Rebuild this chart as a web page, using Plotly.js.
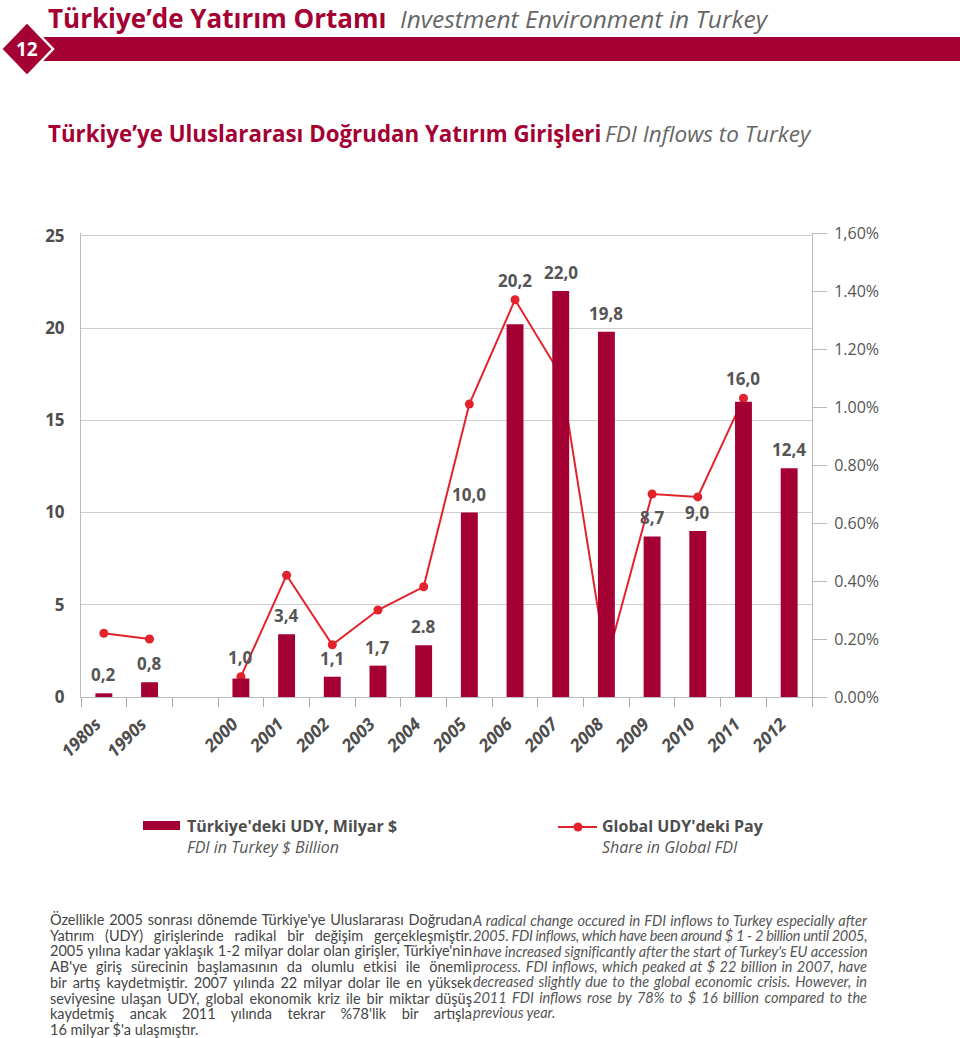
<!DOCTYPE html>
<html><head><meta charset="utf-8">
<script src="https://cdn.plot.ly/plotly-3.0.1.min.js"></script>
<style>
html,body{margin:0;padding:0;background:#fff;}
#wrap{position:relative;width:960px;height:1038px;overflow:hidden;}
#chart{position:absolute;left:0;top:0;width:960px;height:1038px;}
.para{position:absolute;font-family:Lato,'Open Sans',sans-serif;}
.para div{white-space:nowrap;text-align:justify;text-align-last:justify;}
.para div.last{text-align-last:left;}
</style></head>
<body><div id="wrap"><div id="chart"></div>
<div id="trText" class="para" style="left:50px;top:912px;width:422px;font-size:14.5px;line-height:15.7px;color:#454545;"></div>
<div id="enText" class="para" style="left:473px;top:913px;width:394px;font-size:14.5px;line-height:15.35px;color:#555;font-style:italic;"></div>
</div>
<script>
// ---- data ----
const categories = ['1980s','1990s',' ','2000','2001','2002','2003','2004','2005','2006','2007','2008','2009','2010','2011','2012'];
const fdiBillion = [0.2,0.8,null,1.0,3.4,1.1,1.7,2.8,10.0,20.2,22.0,19.8,8.7,9.0,16.0,12.4];
const fdiLabels = ['0,2','0,8','','1,0','3,4','1,1','1,7','2.8','10,0','20,2','22,0','19,8','8,7','9,0','16,0','12,4'];
const globalShare = [0.22,0.20,null,0.07,0.42,0.18,0.30,0.38,1.01,1.37,1.11,0.12,0.70,0.69,1.03,null];
const fdiTicks = [0,5,10,15,20,25];
const shareTicks = [0,0.2,0.4,0.6,0.8,1.0,1.2,1.4,1.6];
const shareTickLabels = ['0.00%','0.20%','0.40%','0.60%','0.80%','1.00%','1.20%','1.40%','1,60%'];
const mainTitle = 'Türkiye’de Yatırım Ortamı';
const mainTitleEn = 'Investment Environment in Turkey';
const chartTitle = 'Türkiye’ye Uluslararası Doğrudan Yatırım Girişleri';
const chartTitleEn = 'FDI Inflows to Turkey';
const pageNumber = '12';
const legendBarTr = "Türkiye'deki UDY, Milyar $";
const legendBarEn = 'FDI in Turkey $ Billion';
const legendLineTr = "Global UDY'deki Pay";
const legendLineEn = 'Share in Global FDI';
const textTr = [
 "Özellikle 2005 sonrası dönemde Türkiye'ye Uluslararası Doğrudan",
 "Yatırım (UDY) girişlerinde radikal bir değişim gerçekleşmiştir.",
 "2005 yılına kadar yaklaşık 1-2 milyar dolar olan girişler, Türkiye'nin",
 "AB'ye giriş sürecinin başlamasının da olumlu etkisi ile önemli",
 "bir artış kaydetmiştir. 2007 yılında 22 milyar dolar ile en yüksek",
 "seviyesine ulaşan UDY,  global ekonomik kriz ile bir miktar düşüş",
 "kaydetmiş ancak 2011 yılında tekrar %78'lik bir artışla",
 "16 milyar  $'a ulaşmıştır."
];
const textEn = [
 "A radical change occured in FDI inflows to Turkey especially after",
 "2005. FDI inflows, which have been around $ 1 - 2 billion until 2005,",
 "have increased significantly after the start of Turkey's EU accession",
 "process. FDI inflows, which peaked at $ 22 billion in 2007, have",
 "decreased slightly due to the global economic crisis. However, in",
 "2011 FDI inflows rose by 78% to $ 16 billion compared to the",
 "previous year."
];

// ---- paragraphs (justified lines, squeezed if too long) ----
function fill(id, lines, width){
  const el = document.getElementById(id);
  lines.forEach((t,i)=>{
    const d=document.createElement('div');
    const s=document.createElement('span'); s.textContent=t; d.appendChild(s);
    if(i===lines.length-1) d.className='last';
    el.appendChild(d);
  });
  const adjust=()=>{
    Array.from(el.children).forEach(d=>{
      const s=d.firstChild; d.style.letterSpacing='0px';
      const w=s.getBoundingClientRect().width;
      if(w>width){ d.style.letterSpacing=((width-w)/s.textContent.length)+'px'; }
    });
  };
  adjust();
  if(document.fonts&&document.fonts.ready) document.fonts.ready.then(adjust);
}
fill('trText', textTr, 422); fill('enText', textEn, 394);

// ---- geometry ----
const W=960,H=1038,ML=81,MR=148,MT=233,MB=341;
const PW=W-ML-MR, PH=H-MT-MB;
const px = X => (X-ML)/PW;
const py = Y => (H-MB-Y)/PH;
const BAR_MAX=25.15, SHARE_MAX=1.6;

const CRIMSON='#a50034', RED='#e3232c', DARK='#4d4d4d', GREY='#666';
const FONT='"Open Sans", sans-serif';

const bars = {
  type:'bar', x:categories, y:fdiBillion, xaxis:'x', yaxis:'y2',
  marker:{color:CRIMSON}, width:0.37, hoverinfo:'skip', showlegend:false
};
const line = {
  type:'scatter', mode:'lines+markers', x:categories, y:globalShare, xaxis:'x', yaxis:'y',
  line:{color:RED, width:2}, marker:{color:RED, size:9}, connectgaps:false, hoverinfo:'skip', showlegend:false
};

const annotations = [];
categories.forEach((c,i)=>{
  if(fdiBillion[i]==null) return;
  // lift the label above the line marker when the marker sits just above the bar
  let shift=5;
  if(globalShare[i]!=null){
    const barTop=fdiBillion[i]/BAR_MAX*PH, mk=globalShare[i]/SHARE_MAX*PH;
    if(mk>barTop-4 && mk-barTop<30) shift=mk-barTop+6;
  }
  annotations.push({x:i, y:fdiBillion[i], xref:'x', yref:'y2', text:fdiLabels[i], showarrow:false,
    yanchor:'bottom', yshift:shift, font:{family:FONT, size:17, color:'#555', weight:'bold'}});
});
function txt(X,Y,text,font,xa,ya){
  annotations.push({xref:'paper',yref:'paper',x:px(X),y:py(Y),text:text,showarrow:false,
    xanchor:xa||'left',yanchor:ya||'middle',align:'left',font:font});
}
// header
txt(46,18,mainTitle,{family:FONT,size:26,color:CRIMSON,weight:'bold'});
txt(398,19,mainTitleEn,{family:FONT,size:24.5,color:GREY,style:'italic'});
txt(27,49,pageNumber,{family:FONT,size:19,color:'#fff',weight:'bold'},'center');
txt(46,133,chartTitle,{family:FONT,size:22.3,color:CRIMSON,weight:'bold'});
txt(603,133,chartTitleEn,{family:FONT,size:22.5,color:GREY,style:'italic'});
// legend
txt(185,836,`<b>${legendBarTr}</b><br><span style="color:#555"><i>${legendBarEn}</i></span>`,{family:FONT,size:16,color:DARK});
txt(600,836,`<b>${legendLineTr}</b><br><span style="color:#555"><i>${legendLineEn}</i></span>`,{family:FONT,size:16,color:DARK});

const shapes = [
  {type:'rect',xref:'paper',yref:'paper',x0:px(25),x1:px(960),y0:py(61),y1:py(37),fillcolor:CRIMSON,line:{width:0},layer:'above'},
  {type:'path',xref:'paper',yref:'paper',
   path:`M${px(1)},${py(49)} L${px(27)},${py(22)} L${px(53)},${py(49)} L${px(27)},${py(76)} Z`,
   fillcolor:CRIMSON,line:{color:'#fff',width:2.5},layer:'above'},
  {type:'rect',xref:'paper',yref:'paper',x0:px(143),x1:px(180),y0:py(830),y1:py(821),fillcolor:CRIMSON,line:{width:0}},
  {type:'line',xref:'paper',yref:'paper',x0:px(558),x1:px(597),y0:py(827),y1:py(827),line:{color:RED,width:2}},
  {type:'circle',xref:'paper',yref:'paper',x0:px(573.5),x1:px(582.5),y0:py(831.5),y1:py(822.5),fillcolor:RED,line:{color:RED,width:0}}
];

const layout = {
  width:W, height:H, margin:{l:ML,r:MR,t:MT,b:MB,pad:0},
  paper_bgcolor:'#fff', plot_bgcolor:'rgba(0,0,0,0)', showlegend:false,
  font:{family:FONT},
  xaxis:{type:'category', categoryorder:'array', categoryarray:categories, range:[-0.5,15.5],
    tickson:'boundaries', ticks:'outside', ticklen:9, tickcolor:'#aaa', tickwidth:1,
    showline:true, linecolor:'#bbb', linewidth:1, showgrid:false, zeroline:false,
    tickangle:-45, ticklabelstandoff:9, ticklabelshift:-8,
    tickfont:{family:FONT,size:17.5,color:DARK,weight:'bold',style:'italic'}, fixedrange:true},
  yaxis:{range:[0,SHARE_MAX], side:'right', tickmode:'array', tickvals:shareTicks, ticktext:shareTickLabels,
    ticks:'outside', ticklen:14, tickcolor:'#bbb', showline:true, linecolor:'#bbb', showgrid:false, zeroline:false,
    tickfont:{family:FONT,size:16,color:'#555'}, ticklabelstandoff:4, fixedrange:true},
  yaxis2:{overlaying:'y', side:'left', range:[0,BAR_MAX], tickmode:'array', tickvals:fdiTicks,
    showgrid:true, gridcolor:'#cfcfcf', gridwidth:1, showline:true, linecolor:'#bbb', ticks:'', zeroline:false,
    tickfont:{family:FONT,size:17,color:DARK,weight:'bold'}, ticklabelstandoff:12, fixedrange:true},
  annotations:annotations, shapes:shapes
};
Plotly.newPlot('chart',[line,bars],layout,{displayModeBar:false,staticPlot:true});
</script></body></html>
